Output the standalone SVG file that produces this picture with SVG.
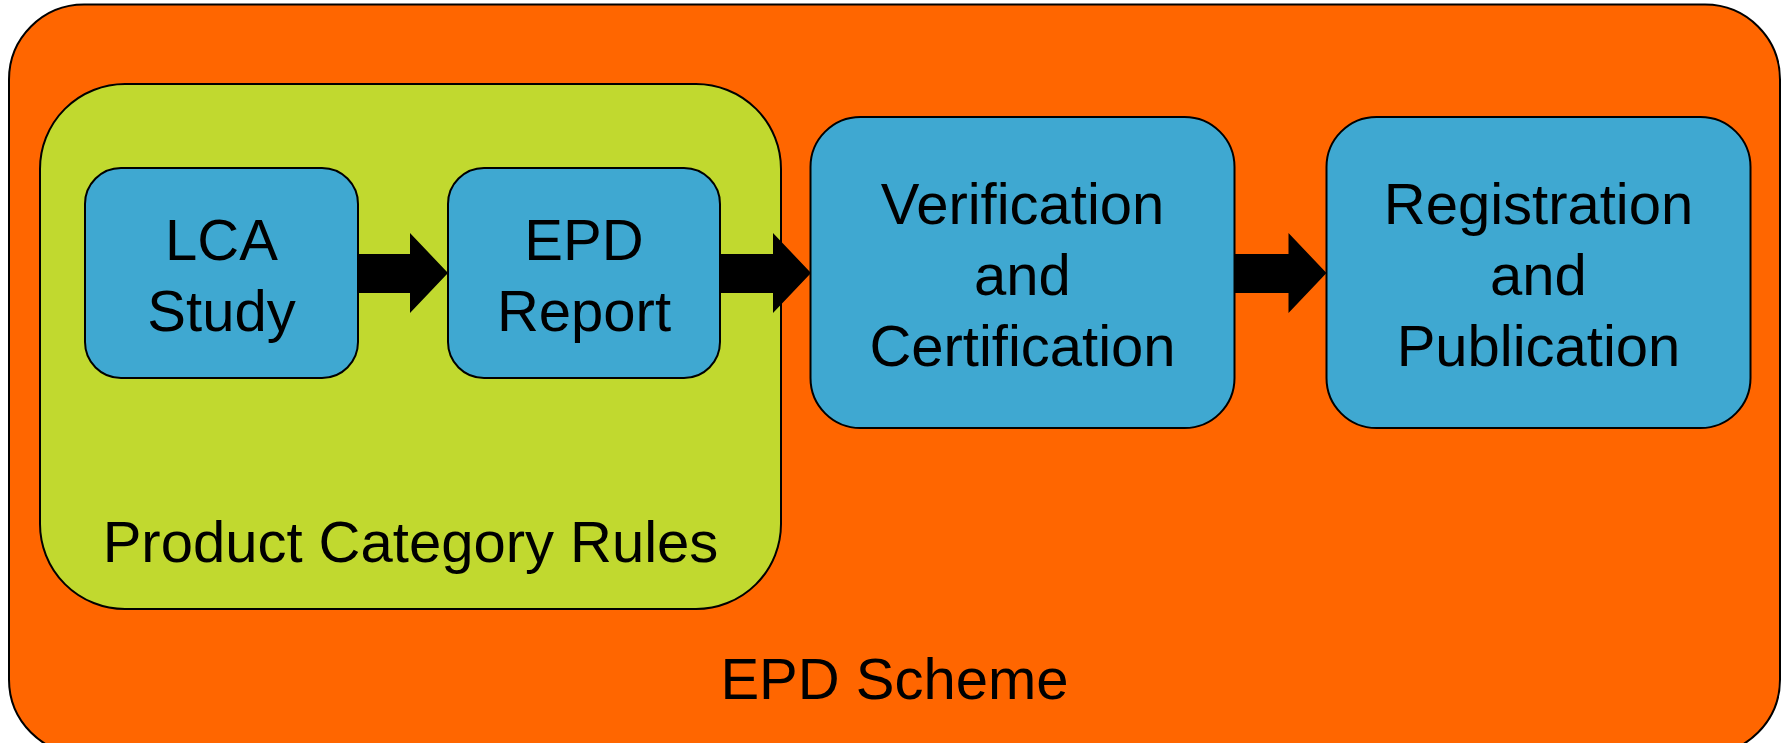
<svg xmlns="http://www.w3.org/2000/svg" width="1785" height="743" viewBox="0 0 1785 743">
<style>
  .frame { stroke: #000; stroke-width: 2; }
  .scheme { fill: #FF6600; }
  .pcr { fill: #C1D92F; }
  .step { fill: #3FA8D1; stroke: #000; stroke-width: 2; }
  .lbl { font-family: "Liberation Sans", Arial, sans-serif; font-size: 58px; fill: #000; text-anchor: middle; }
  .arrow { fill: #000; stroke: none; }
</style>
<rect width="1785" height="743" fill="#ffffff"/>
<g id="epd-scheme">
  <rect class="scheme frame" x="9" y="4.5" width="1771" height="750" rx="75" ry="75"/>
  <text class="lbl" x="894.5" y="699">EPD Scheme</text>
</g>
<g id="product-category-rules">
  <rect class="pcr frame" x="40" y="84" width="741" height="525" rx="85" ry="85"/>
  <text class="lbl" x="410.5" y="562">Product Category Rules</text>
</g>
<g id="lca-study">
  <rect class="step" x="85" y="168" width="273" height="210" rx="36" ry="36"/>
  <text class="lbl" x="221.5" y="260">LCA</text>
  <text class="lbl" x="221.5" y="331">Study</text>
</g>
<g id="epd-report">
  <rect class="step" x="448" y="168" width="272" height="210" rx="36" ry="36"/>
  <text class="lbl" x="584" y="260">EPD</text>
  <text class="lbl" x="584" y="331">Report</text>
</g>
<g id="verification">
  <rect class="step" x="810.5" y="117" width="424" height="311" rx="50" ry="50"/>
  <text class="lbl" x="1022.5" y="224">Verification</text>
  <text class="lbl" x="1022.5" y="295">and</text>
  <text class="lbl" x="1022.5" y="366">Certification</text>
</g>
<g id="registration">
  <rect class="step" x="1326.5" y="117" width="424" height="311" rx="50" ry="50"/>
  <text class="lbl" x="1538.5" y="224">Registration</text>
  <text class="lbl" x="1538.5" y="295">and</text>
  <text class="lbl" x="1538.5" y="366">Publication</text>
</g>
<g id="connectors">
  <polygon class="arrow" points="358,254 410,254 410,233 448,273 410,313 410,293 358,293"/>
  <polygon class="arrow" points="720,254 773,254 773,233 811,273 773,313 773,293 720,293"/>
  <polygon class="arrow" points="1234.5,254 1288.5,254 1288.5,233 1326.5,273 1288.5,313 1288.5,293 1234.5,293"/>
</g>
</svg>
